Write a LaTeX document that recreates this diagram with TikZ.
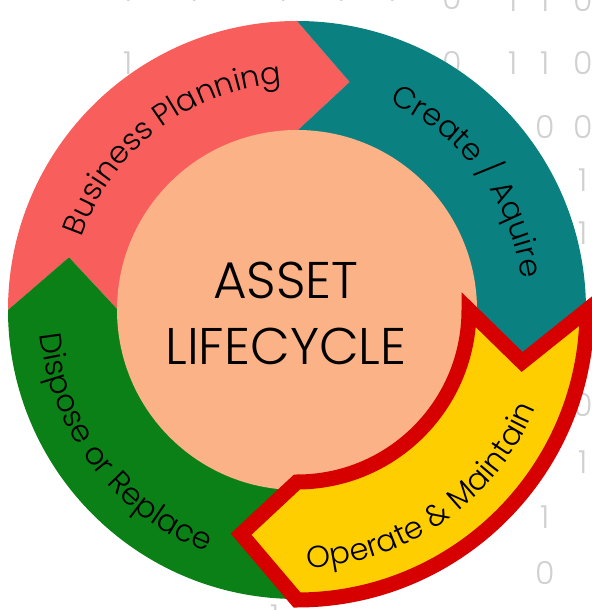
\documentclass[tikz,border=0pt]{standalone}
\usepackage{fontspec}
\setmainfont{Poppins Light}
\usetikzlibrary{decorations.text}

\definecolor{planred}{RGB}{247,94,92}
\definecolor{acqteal}{RGB}{10,128,128}
\definecolor{opyellow}{RGB}{255,206,0}
\definecolor{opborder}{RGB}{214,0,0}
\definecolor{dispgreen}{RGB}{10,128,22}
\definecolor{corepeach}{RGB}{250,178,134}
\definecolor{bitgray}{RGB}{208,208,208}

\newcommand{\lbl}{\fontsize{26}{26}\selectfont}
\tikzset{
  bit/.style={text=bitgray, inner sep=0pt, font=\fontsize{27}{27}\selectfont},
  arclabel/.style={decorate, decoration={text along path, text align=center, text={#1}}}
}

\begin{document}
\begin{tikzpicture}[x=0.03cm,y=0.03cm]
\useasboundingbox (0,0) rectangle (592,610);
\foreach \x/\y/\b in {128/620/1,194/620/1,283/620/1,341/620/1,392/620/1,452/612/0,513/610/1,545/610/1,583/610/0,
  128/547/1,452/547/0,513/547/1,545/547/1,583/547/0,510/483/1,545/483/0,583/483/0,
  545/430/1,583/430/1,583/377/1,583/205/0,583/148/1,545/93/1,545/37/0,275/-6/1}
  \path (\x,\y) node[bit] (bit-\x-\y) {\b};
\begin{scope}[shift={(297,300)}]
\def\ro{289}
\def\ri{179}
\def\rt{234}
\fill[planred] (180:\ro) arc (180:90:\ro) -- (77:\rt) -- (90:\ri) arc (90:180:\ri) -- (167:\rt) -- cycle;
\fill[acqteal] (90:\ro) arc (90:0:\ro) -- (-13:231) -- (0:\ri) arc (0:90:\ri) -- (77:\rt) -- cycle;
\fill[dispgreen] (270:\ro) arc (270:180:\ro) -- (167:\rt) -- (180:\ri) arc (180:270:\ri) -- (257:231) -- cycle;
\fill[corepeach] (0,0) circle (\ri+1);
\filldraw[fill=opyellow, draw=opborder, line width=0.45cm, line join=miter]
  (0:290) arc (0:-90:290) -- (-104:231) -- (-90:172) arc (-90:0:172) -- (-13:231) -- cycle;
%\path (135:\rt) node {Business Planning};
\path[arclabel={|\lbl|Business Planning}] (185:227) arc (185:70:227);
\path[arclabel={|\lbl|Create / Aquire}] (95:227) arc (95:-21:227);
\path[arclabel={|\lbl|Dispose or Replace}] (160:258) arc (160:275:258);
\path[arclabel={|\lbl|Operate {\&} Maintain}] (247:258) arc (247:363:258);
\path (-11,-3.5) node[align=center, font=\fontsize{44}{57}\selectfont] (title) {ASSET\\LIFECYCLE};
\end{scope}
\end{tikzpicture}
\end{document}
